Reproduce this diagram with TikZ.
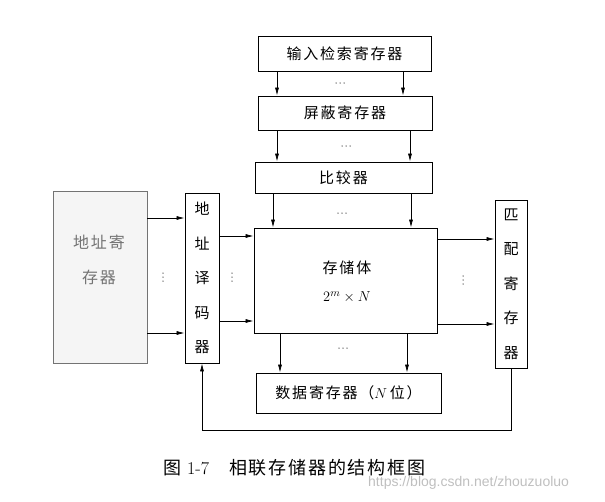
\documentclass[tikz,border=0pt]{standalone}
\usepackage{fontspec}
\newfontfamily\cjk{Noto Sans CJK SC}[LetterSpace=12]
\newfontfamily\cjkcap{Noto Sans CJK SC}[LetterSpace=10]
\newfontfamily\wm{Liberation Sans}
\usetikzlibrary{arrows.meta}
\newcommand\hdd[2]{\foreach \dd in {-4,0,4} {\fill[dotc] ({#1+\dd},#2) circle (0.75pt);}}
\newcommand\vdd[2]{\foreach \dd in {-4,0,4} {\fill[dotc] (#1,{#2+\dd}) circle (0.75pt);}}
\begin{document}
\begin{tikzpicture}[x=1pt,y=-1pt,
  box/.style={draw, line width=0.8pt, inner sep=0pt},
  arr/.style={-{Latex[length=8pt,width=4pt]}, line width=0.7pt},
  lab/.style={font=\cjk\fontsize{15}{18}\selectfont},
  vlab/.style={align=center, font=\cjk\fontsize{15}{34.5}\selectfont},
  dotc/.style={black!60},
]
\useasboundingbox (0,0) rectangle (605,501);

% boxes
\node[box, minimum width=173pt, minimum height=35pt, lab] (in) at (344.5,53.5) {输入检索寄存器};
\node[box, minimum width=174pt, minimum height=34pt, lab] (mask) at (345,113) {屏蔽寄存器};
\node[box, minimum width=177pt, minimum height=31pt, lab] (cmp) at (343.5,177.5) {比较器};
\node[box, minimum width=183pt, minimum height=105pt] (mem) at (345.5,280.5) {};
\node[lab] (memt) at (347,268) {存储体};
\node (memf) at (347,297) {\fontsize{15}{18}\selectfont $2^m\times N$};
\node[box, minimum width=185pt, minimum height=40pt, lab] (data) at (348.5,393) {数据寄存器（$N$\,位）};
\node[box, minimum width=32pt, minimum height=168pt, vlab] (match) at (511,284) {匹\\配\\寄\\存\\器};
\node[box, minimum width=34pt, minimum height=170pt, vlab] (dec) at (202,278) {地\\址\\译\\码\\器};
\node[box, draw=black!55, fill=black!4, minimum width=94pt, minimum height=172pt] (areg) at (100,277) {};
\node[text=black!55, align=center, font=\cjk\fontsize{16}{35}\selectfont] (aregt) at (99,259.5) {地址寄\\存器};

% vertical arrows
\draw[arr] (in.south -| 277,0) -- (mask.north -| 277,0);
\draw[arr] (in.south -| 403,0) -- (mask.north -| 403,0);
\draw[arr] (mask.south -| 277,0) -- (cmp.north -| 277,0);
\draw[arr] (mask.south -| 410,0) -- (cmp.north -| 410,0);
\draw[arr] (cmp.south -| 273,0) -- (mem.north -| 273,0);
\draw[arr] (cmp.south -| 411,0) -- (mem.north -| 411,0);
\draw[arr] (mem.south -| 280,0) -- (data.north -| 280,0);
\draw[arr] (mem.south -| 407,0) -- (data.north -| 407,0);

% horizontal arrows
\draw[arr] (areg.east |- 0,218) -- (dec.west |- 0,218);
\draw[arr] (areg.east |- 0,333) -- (dec.west |- 0,333);
\draw[arr] (dec.east |- 0,236) -- (mem.west |- 0,236);
\draw[arr] (dec.east |- 0,321) -- (mem.west |- 0,321);
\draw[arr] (mem.east |- 0,239) -- (match.west |- 0,239);
\draw[arr] (mem.east |- 0,324) -- (match.west |- 0,324);

% feedback
\draw[arr] (match.south) -- (match.south |- 0,430) -| (dec.south);

% dots
\hdd{340}{83}
\hdd{346}{146}
\hdd{342}{213}
\hdd{343}{348}
\vdd{163}{277}
\vdd{232}{277}
\vdd{463}{280}

% caption
\node[anchor=west, inner sep=0pt, font=\fontsize{18}{20}\selectfont] (cap) at (163,468)
  {{\cjkcap 图}\hspace{6pt}1-7\hspace{20pt}{\cjkcap 相联存储器的结构框图}};
\node[anchor=west, inner sep=0pt, text=black!25, font=\wm\fontsize{14}{16}\selectfont] (wmk) at (368,483)
  {https://blog.csdn.net/zhouzuoluo};
\end{tikzpicture}
\end{document}
